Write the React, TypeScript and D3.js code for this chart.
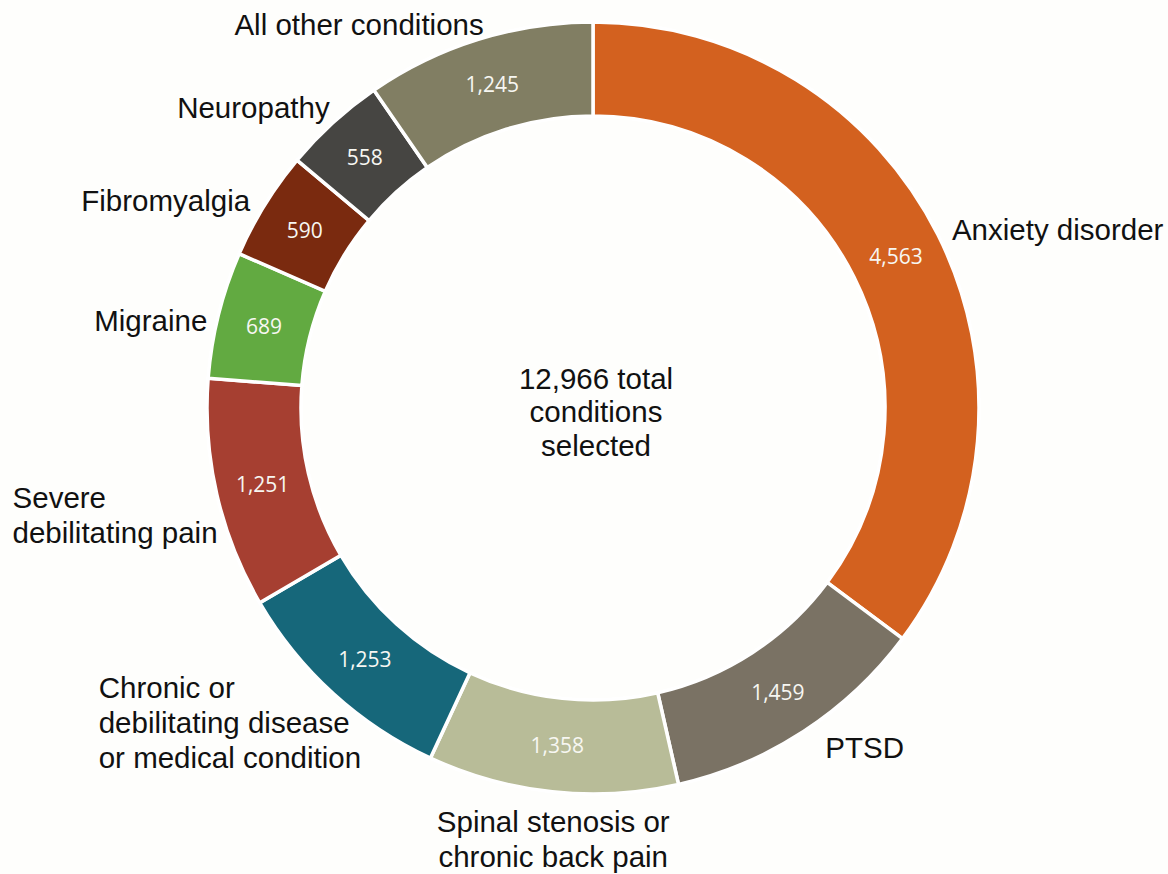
import React from "react";
import * as d3 from "d3";

const categories = [
  "Anxiety disorder",
  "PTSD",
  "Spinal stenosis or chronic back pain",
  "Chronic or debilitating disease or medical condition",
  "Severe debilitating pain",
  "Migraine",
  "Fibromyalgia",
  "Neuropathy",
  "All other conditions",
];
const labelLines = [
  ["Anxiety disorder"],
  ["PTSD"],
  ["Spinal stenosis or", "chronic back pain"],
  ["Chronic or", "debilitating disease", "or medical condition"],
  ["Severe", "debilitating pain"],
  ["Migraine"],
  ["Fibromyalgia"],
  ["Neuropathy"],
  ["All other conditions"],
];
const values = [4563, 1459, 1358, 1253, 1251, 689, 590, 558, 1245];
const colors = [
  "#D3611F",
  "#7A7264",
  "#B8BC98",
  "#16677A",
  "#A63F31",
  "#62AA41",
  "#7A2A0F",
  "#464542",
  "#817E63",
];
const centerLines = ["12,966 total", "conditions", "selected"];

// label layout (relative to the point at labelRadius on the slice's mid-angle)
const labelLayout = [
  { anchor: "start", dx: -12, dy: 8 },
  { anchor: "start", dx: 6, dy: -8 },
  { anchor: "middle", dx: 4, dy: 1 },
  { anchor: "start", dx: -215, dy: 8 },
  { anchor: "start", dx: -176, dy: 14 },
  { anchor: "end", dx: 17, dy: 13 },
  { anchor: "end", dx: 10, dy: 11 },
  { anchor: "end", dx: 16, dy: 6 },
  { anchor: "end", dx: 14, dy: 13 },
];

const W = 1168;
const H = 874;
const cx = 593;
const cy = 408;
const outerR = 386;
const innerR = 292;
const labelR = 415;
const lineH = 35;

export default function App() {
  const data = categories.map((c, i) => ({ c, v: values[i], i }));
  const pie = d3
    .pie<any>()
    .sort(null)
    .value((d) => d.v)
    .startAngle(0)
    .endAngle(2 * Math.PI);
  const arcs = pie(data);
  const arc = d3.arc<any>().innerRadius(innerR).outerRadius(outerR);
  const fmt = d3.format(",");

  return (
    <svg
      width={W}
      height={H}
      style={{ position: "absolute", left: 0, top: 0, background: "#fff" }}
    >
      <rect x={0} y={0} width={W} height={H} fill="#fefefc" />
      <g transform={`translate(${cx},${cy})`}>
        {arcs.map((a, i) => (
          <path
            key={i}
            d={arc(a) as string}
            fill={colors[i]}
            stroke="#ffffff"
            strokeWidth={3.5}
          />
        ))}
        {arcs.map((a, i) => {
          const [x, y] = arc.centroid(a);
          return (
            <text
              key={"v" + i}
              x={x}
              y={y}
              textAnchor="middle"
              dominantBaseline="central"
              fill="#f7f7f2"
              fontFamily="'Open Sans', sans-serif"
              fontSize={21}
            >
              {fmt(a.data.v)}
            </text>
          );
        })}
        {arcs.map((a, i) => {
          const mid = (a.startAngle + a.endAngle) / 2;
          const px = Math.sin(mid) * labelR;
          const py = -Math.cos(mid) * labelR;
          const lay = labelLayout[i];
          const lines = labelLines[i];
          const n = lines.length;
          const x = px + lay.dx;
          const yc = py + lay.dy;
          const y0 = lay.anchor === "middle" ? yc : yc - ((n - 1) * lineH) / 2;
          return (
            <text
              key={"l" + i}
              textAnchor={lay.anchor}
              fill="#111"
              fontFamily="'Liberation Sans', Arial, sans-serif"
              fontSize={29.5}
            >
              {lines.map((ln, j) => (
                <tspan key={j} x={x} y={y0 + j * lineH} dominantBaseline="central">
                  {ln}
                </tspan>
              ))}
            </text>
          );
        })}
        <text
          textAnchor="middle"
          fill="#111"
          fontFamily="'Liberation Sans', Arial, sans-serif"
          fontSize={29.5}
        >
          {centerLines.map((ln, j) => (
            <tspan key={j} x={3} y={-30 + j * 33.5} dominantBaseline="central">
              {ln}
            </tspan>
          ))}
        </text>
      </g>
    </svg>
  );
}
